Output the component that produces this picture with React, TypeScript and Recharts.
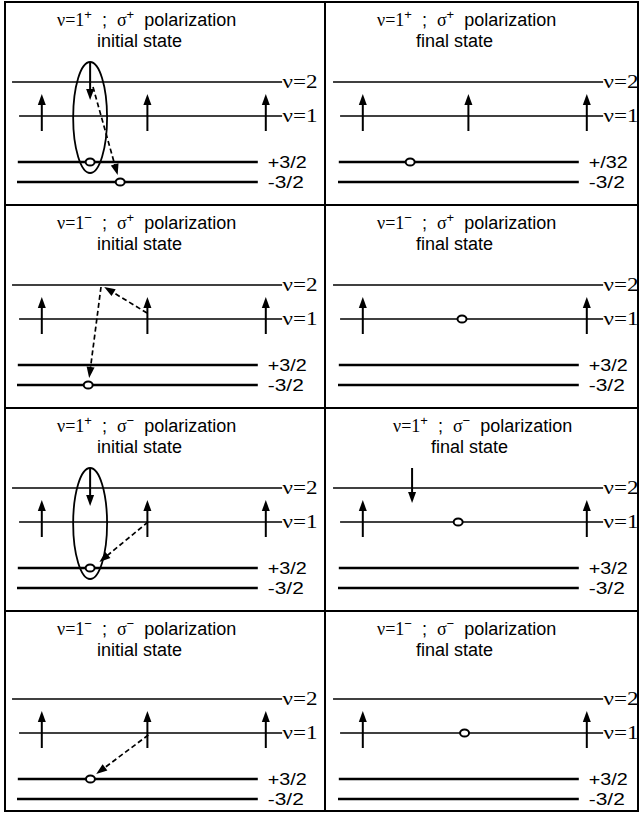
import React from 'react'
import { ComposedChart, XAxis, YAxis, Scatter, ReferenceLine, ReferenceArea } from 'recharts'

// energy levels: name, energy (arbitrary units) and extent along the layer (0-100)
const levelNames = ['ν=2', 'ν=1', '+3/2', '-3/2']
const levelEnergy = [10, 6.6, 2, 0]
const levelFrom = [2.2, 4.4, 4.0, 3.75]
const levelTo = [86.6, 86.6, 79, 79]

// rows of the figure: sign of the ν=1 state and the light polarization
const rowNu = ['+', '−', '+', '−']
const rowSigma = ['+', '+', '−', '−']
const stages = ['initial state', 'final state']

// panels in reading order: row by row, initial then final
const spinsUp = [
  [11.5, 44.5, 81.5], [11.5, 44.5, 81.5],
  [11.5, 44.5, 81.5], [11.5, 81.5],
  [11.5, 44.5, 81.5], [11.5, 81.5],
  [11.5, 44.5, 81.5], [11.5, 81.5],
]
const spinsDown = [[26.6], [], [], [], [26.6], [26.9], [], []]
const holeX = [[26.6, 36], [26.3], [26], [42.5], [26.6], [41.3], [26.7], [43.3]]
const holeLevel = [[2, 3], [2], [3], [1], [2], [1], [2], [1]]
// dashed transitions: [x from, energy from, x to, energy to]
const jumps = [
  [[27.5, 9.5, 35.2, 0.7]],
  [],
  [[44.4, 7.2, 31, 9.8], [30, 9.8, 26.3, 0.7]],
  [],
  [[44.7, 6.6, 29.5, 2.6]],
  [],
  [[44.8, 6.4, 28.5, 2.5]],
  [],
]
// correlated pair: [x1, x2, energy low, energy high]
const pairs = [[21.3, 31.9, 0.9, 12], null, null, null, [21.3, 31.9, 0.9, 12], null, null, null]
const panelLabels: Record<number, string[]> = { 1: ['ν=2', 'ν=1', '+/32', '-3/2'] }

// layout
const colLeft = [5, 326]
const rowTop = [2, 205, 408, 611]
const rowHeight = [203, 203, 203, 200]
const rowDomain = [[-2.3, 18], [-2.3, 18], [-2.3, 18], [-1.2, 18.8]]
const CHART_W = 320

const serif = '"Liberation Serif", "Times New Roman", serif'
const sans = '"Liberation Sans", Arial, sans-serif'

const arrowShape = (dashed: boolean, width: number) => (p: any) => {
  const { x1, y1, x2, y2 } = p
  const dx = x2 - x1
  const dy = y2 - y1
  const len = Math.hypot(dx, dy) || 1
  const ux = dx / len
  const uy = dy / len
  const hl = 11
  const hw = 4
  const bx = x2 - ux * hl
  const by = y2 - uy * hl
  const pts = `${x2},${y2} ${bx - uy * hw},${by + ux * hw} ${bx + uy * hw},${by - ux * hw}`
  return (
    <g>
      <line x1={x1} y1={y1} x2={bx + ux * 1} y2={by + uy * 1} stroke="#000" strokeWidth={width}
        strokeDasharray={dashed ? '5 3' : undefined} />
      <polygon points={pts} fill="#000" />
    </g>
  )
}

const levelShape = (label: string, i: number) => (p: any) => {
  const isNu = i < 2
  return (
    <g>
      <line x1={p.x1} y1={p.y1} x2={p.x2} y2={p.y2} stroke="#000" strokeWidth={isNu ? 1.7 : 2.4} />
      <text x={p.x2 + (isNu ? 0.5 : 10)} y={p.y1 + (isNu ? 6 : 5.5)}
        fontFamily={isNu ? serif : sans} fontSize={isNu ? 19 : 16}
        textLength={isNu ? 35 : i === 2 ? 39 : 36} lengthAdjust="spacingAndGlyphs" fill="#000">
        {label}
      </text>
    </g>
  )
}

const pairShape = (p: any) => (
  <ellipse cx={p.x + p.width / 2} cy={p.y + p.height / 2} rx={p.width / 2} ry={p.height / 2}
    fill="none" stroke="#000" strokeWidth={1.8} />
)

const holeShape = (p: any) => (
  <ellipse cx={p.cx} cy={p.cy} rx={4.5} ry={3.6} fill="#fff" stroke="#000" strokeWidth={2} />
)

const Sup = ({ children }: { children: string }) => (
  <span style={{ position: 'relative', top: -7, fontSize: 13 }}>{children}</span>
)

function Panel({ idx }: { idx: number }) {
  const row = Math.floor(idx / 2)
  const col = idx % 2
  const v1 = levelEnergy[1]
  const v2 = levelEnergy[0]
  const labels = panelLabels[idx] || levelNames
  const holes = holeX[idx].map((x, k) => ({ x, y: levelEnergy[holeLevel[idx][k]] }))
  const pair = pairs[idx]
  const shifted = idx === 5
  const t1x = col === 0 ? 52 : shifted ? 67 : 51
  const t2x = col === 0 ? 92 : shifted ? 105 : 90

  return (
    <div style={{ position: 'absolute', left: colLeft[col], top: rowTop[row], width: CHART_W, height: rowHeight[row] }}>
      <ComposedChart width={CHART_W} height={rowHeight[row]} margin={{ top: 0, right: 0, bottom: 0, left: 0 }}>
        <XAxis type="number" dataKey="x" domain={[0, 100]} hide allowDataOverflow />
        <YAxis type="number" dataKey="y" domain={rowDomain[row]} hide allowDataOverflow />
        {levelNames.map((_, i) => (
          <ReferenceLine key={'lv' + i} ifOverflow="visible"
            segment={[{ x: levelFrom[i], y: levelEnergy[i] }, { x: levelTo[i], y: levelEnergy[i] }]}
            shape={levelShape(labels[i], i)} />
        ))}
        {pair && (
          <ReferenceArea x1={pair[0]} x2={pair[1]} y1={pair[2]} y2={pair[3]} ifOverflow="visible" shape={pairShape} />
        )}
        {spinsUp[idx].map((x, k) => (
          <ReferenceLine key={'up' + k} ifOverflow="visible"
            segment={[{ x, y: v1 - 1.5 }, { x, y: v1 + 2.2 }]} shape={arrowShape(false, 2)} />
        ))}
        {spinsDown[idx].map((x, k) => (
          <ReferenceLine key={'dn' + k} ifOverflow="visible"
            segment={[{ x, y: v2 + 2 }, { x, y: v2 - (pair ? 1.8 : 1.5) }]} shape={arrowShape(false, 2)} />
        ))}
        {jumps[idx].map((j, k) => (
          <ReferenceLine key={'j' + k} ifOverflow="visible"
            segment={[{ x: j[0], y: j[1] }, { x: j[2], y: j[3] }]} shape={arrowShape(true, 1.7)} />
        ))}
        <Scatter data={holes} dataKey="y" shape={holeShape} isAnimationActive={false} />
      </ComposedChart>
      <div style={{ position: 'absolute', left: t1x, top: 9, font: `18px ${sans}`, lineHeight: '18px', whiteSpace: 'pre', color: '#000' }}>
        <span style={{ fontFamily: serif }}>ν=1</span><Sup>{rowNu[row]}</Sup>{'  ;  '}
        <span style={{ fontFamily: serif }}>σ</span><Sup>{rowSigma[row]}</Sup>{'  polarization'}
      </div>
      <div style={{ position: 'absolute', left: t2x, top: 30, font: `18px ${sans}`, lineHeight: '18px', whiteSpace: 'pre', color: '#000' }}>
        {stages[col]}
      </div>
    </div>
  )
}

const Rule = ({ l, t, w, h }: { l: number; t: number; w: number; h: number }) => (
  <div style={{ position: 'absolute', left: l, top: t, width: w, height: h, background: '#000' }} />
)

export default function App() {
  return (
    <div style={{ position: 'absolute', left: 0, top: 0, width: 639, height: 814, overflow: 'hidden', background: '#fff' }}>
      {Array.from({ length: 8 }, (_, i) => <Panel key={i} idx={i} />)}
      <Rule l={4} t={1} w={635} h={2} />
      <Rule l={4} t={810} w={635} h={2} />
      <Rule l={4} t={1} w={2} h={811} />
      <Rule l={637} t={1} w={2} h={811} />
      <Rule l={324} t={1} w={2} h={811} />
      <Rule l={4} t={204} w={635} h={2} />
      <Rule l={4} t={407} w={635} h={2} />
      <Rule l={4} t={610} w={635} h={2} />
    </div>
  )
}
